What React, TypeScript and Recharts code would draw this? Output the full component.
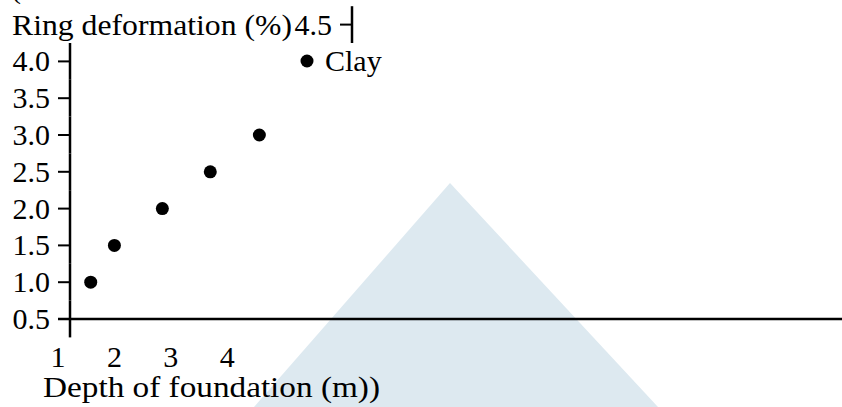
import React from "react";
import {
  ScatterChart,
  Scatter,
  XAxis,
  YAxis,
  Legend,
} from "recharts";

// Ring deformation vs depth of foundation (clay)
const depthValues = [1.58, 2.0, 2.85, 3.7, 4.57];
const deformationValues = [1.0, 1.5, 2.0, 2.5, 3.0];
const xTicks = [1, 2, 3, 4];
const yTicks = [0.5, 1.0, 1.5, 2.0, 2.5, 3.0, 3.5, 4.0, 4.5];
const seriesName = "Clay";

const data = depthValues.map((depth, i) => ({
  depth,
  deformation: deformationValues[i],
}));

const FONT = '"Liberation Serif", "Times New Roman", serif';
const FONT_SIZE = 30;

// each y tick draws its own label, tick mark and a piece of the axis bar;
// the top one got pushed right, after the axis title
function YTick(props: any) {
  const { x, y, payload } = props;
  const shift = payload.value === 4.5 ? 282 : 0;
  const ax = x + 12 + shift;
  return (
    <g>
      <text
        x={ax - 20}
        y={y + 10}
        textAnchor="end"
        fontFamily={FONT}
        fontSize={FONT_SIZE}
        fill="#000"
      >
        {Number(payload.value).toFixed(1)}
      </text>
      <line x1={ax - 12} x2={ax} y1={y} y2={y} stroke="#000" strokeWidth={2} />
      <line x1={ax} x2={ax} y1={y - 18.4} y2={y + 18.4} stroke="#000" strokeWidth={2.5} />
    </g>
  );
}

function XTick(props: any) {
  const { x, y, payload } = props;
  return (
    <text
      x={x}
      y={y + 48}
      textAnchor="middle"
      fontFamily={FONT}
      fontSize={FONT_SIZE}
      fill="#000"
    >
      {payload.value}
    </text>
  );
}

function YLabel(props: any) {
  const { viewBox } = props;
  return (
    <g>
      <text x={11} y={-2} fontFamily={FONT} fontSize={FONT_SIZE} fill="#000">
        (
      </text>
      <text
        x={viewBox.x + 12}
        y={viewBox.y + 10}
        fontFamily={FONT}
        fontSize={FONT_SIZE}
        textLength={280}
        lengthAdjust="spacingAndGlyphs"
        fill="#000"
      >
        Ring deformation (%)
      </text>
    </g>
  );
}

function XLabel(props: any) {
  const { viewBox } = props;
  return (
    <text
      x={viewBox.x - 15}
      y={viewBox.y + 78}
      fontFamily={FONT}
      fontSize={FONT_SIZE}
      textLength={337}
      lengthAdjust="spacingAndGlyphs"
      fill="#000"
    >
      Depth of foundation (m))
    </text>
  );
}

function LegendContent() {
  return (
    <div
      style={{
        display: "flex",
        alignItems: "center",
        fontFamily: FONT,
        fontSize: FONT_SIZE,
        lineHeight: "34px",
        color: "#000",
      }}
    >
      <svg width={14} height={14}>
        <circle cx={7} cy={7} r={6.5} fill="#000" />
      </svg>
      <span style={{ marginLeft: 11 }}>{seriesName}</span>
    </div>
  );
}

export default function App() {
  return (
    <div style={{ position: "absolute", left: 0, top: 0, width: 842, height: 407, background: "#fff" }}>
      {/* pale watermark triangle behind the chart */}
      <div
        style={{
          position: "absolute",
          left: 0,
          top: 0,
          width: 842,
          height: 407,
          background: "#dde9f0",
          clipPath: "polygon(450px 183px, 254px 407px, 658px 407px)",
        }}
      />
      <ScatterChart
        width={842}
        height={407}
        margin={{ top: 24.6, right: 0, bottom: 0, left: 0 }}
      >
        <XAxis
          type="number"
          dataKey="depth"
          domain={[1, 14.9]}
          ticks={xTicks}
          height={88}
          tickLine={false}
          tickSize={0}
          tickMargin={0}
          axisLine={{ stroke: "#000", strokeWidth: 2.5 }}
          tick={<XTick />}
          label={<XLabel />}
        />
        <YAxis
          type="number"
          dataKey="deformation"
          domain={[0.5, 4.5]}
          ticks={yTicks}
          width={58}
          tickLine={false}
          tickSize={0}
          tickMargin={0}
          axisLine={false}
          tick={<YTick />}
          label={<YLabel />}
        />
        <Legend
          verticalAlign="middle"
          layout="horizontal"
          wrapperStyle={{ position: "absolute", left: 300, top: 44, width: "auto", height: "auto" }}
          content={<LegendContent />}
        />
        <Scatter
          name={seriesName}
          data={data}
          fill="#000"
          isAnimationActive={false}
          shape={(p: any) => <circle cx={p.cx} cy={p.cy} r={6.5} fill="#000" />}
        />
      </ScatterChart>
    </div>
  );
}
